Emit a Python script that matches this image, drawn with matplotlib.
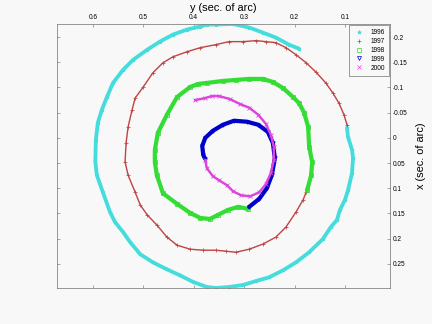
import matplotlib
matplotlib.use("Agg")
import matplotlib.pyplot as plt
from matplotlib.lines import Line2D
from matplotlib.ticker import FixedLocator, FuncFormatter

plt.rcParams['font.family'] = ['Liberation Sans', 'DejaVu Sans']
plt.rcParams['axes.unicode_minus'] = False

# polar motion, y (horizontal) and x (vertical), sec. of arc
y1996 = [0.191, 0.211, 0.237, 0.263, 0.290, 0.322, 0.356, 0.374, 0.387, 0.413, 0.441, 0.467, 0.492,
         0.520, 0.540, 0.560, 0.572, 0.582, 0.590, 0.594, 0.595, 0.592, 0.580, 0.566, 0.556, 0.540,
         0.526, 0.506, 0.481, 0.453, 0.427, 0.401, 0.374, 0.356, 0.330, 0.302, 0.276, 0.251, 0.223,
         0.197, 0.171, 0.144, 0.128, 0.116, 0.110, 0.100, 0.094, 0.086, 0.084, 0.086, 0.094, 0.096]
x1996 = [-0.177, -0.185, -0.199, -0.209, -0.219, -0.226, -0.225, -0.225, -0.221, -0.215, -0.205,
         -0.191, -0.175, -0.155, -0.135, -0.109, -0.081, -0.056, -0.030, 0.004, 0.048, 0.074, 0.108,
         0.147, 0.167, 0.187, 0.207, 0.231, 0.247, 0.261, 0.273, 0.286, 0.296, 0.298, 0.296, 0.292,
         0.284, 0.277, 0.263, 0.247, 0.227, 0.201, 0.177, 0.163, 0.143, 0.123, 0.104, 0.070, 0.040,
         0.024, -0.002, -0.020]

y1997 = [0.096, 0.102, 0.112, 0.124, 0.138, 0.158, 0.177, 0.197, 0.217, 0.237, 0.257, 0.276, 0.302,
         0.330, 0.356, 0.387, 0.413, 0.441, 0.461, 0.481, 0.500, 0.516, 0.522, 0.530, 0.534, 0.536,
         0.530, 0.516, 0.506, 0.492, 0.473, 0.453, 0.433, 0.407, 0.381, 0.356, 0.336, 0.316, 0.290,
         0.263, 0.237, 0.217, 0.197, 0.183, 0.177]
x1997 = [-0.026, -0.046, -0.069, -0.089, -0.109, -0.131, -0.149, -0.165, -0.179, -0.189, -0.191,
         -0.193, -0.191, -0.191, -0.185, -0.179, -0.171, -0.161, -0.149, -0.129, -0.101, -0.079,
         -0.056, -0.022, 0.010, 0.048, 0.074, 0.108, 0.133, 0.153, 0.173, 0.197, 0.213, 0.221, 0.223,
         0.223, 0.225, 0.227, 0.221, 0.211, 0.197, 0.177, 0.147, 0.123, 0.108]

y1998 = [0.175, 0.167, 0.165, 0.171, 0.173, 0.181, 0.191, 0.203, 0.223, 0.243, 0.263, 0.290, 0.316,
         0.342, 0.374, 0.391, 0.407, 0.433, 0.453, 0.471, 0.477, 0.477, 0.473, 0.461, 0.433, 0.407,
         0.387, 0.368, 0.352, 0.332, 0.312, 0.292]
x1998 = [0.104, 0.074, 0.048, 0.018, -0.022, -0.050, -0.069, -0.081, -0.099, -0.111, -0.117, -0.117,
         -0.115, -0.113, -0.109, -0.107, -0.101, -0.081, -0.046, -0.010, 0.024, 0.048, 0.074, 0.110,
         0.131, 0.149, 0.159, 0.161, 0.153, 0.143, 0.137, 0.141]

y1999 = [0.290, 0.270, 0.255, 0.245, 0.239, 0.243, 0.253, 0.272, 0.294, 0.320, 0.342, 0.362, 0.377,
         0.383, 0.381, 0.377]
x1999 = [0.137, 0.121, 0.100, 0.074, 0.040, 0.010, -0.012, -0.026, -0.032, -0.034, -0.026, -0.014,
         0.000, 0.016, 0.034, 0.042]

y2000 = [0.377, 0.374, 0.362, 0.350, 0.334, 0.322, 0.306, 0.288, 0.270, 0.257, 0.247, 0.241, 0.241,
         0.247, 0.257, 0.272, 0.290, 0.308, 0.328, 0.350, 0.364, 0.377, 0.397]
x2000 = [0.044, 0.060, 0.076, 0.084, 0.094, 0.106, 0.114, 0.116, 0.108, 0.092, 0.070, 0.044, 0.018,
         -0.006, -0.028, -0.046, -0.060, -0.067, -0.077, -0.083, -0.083, -0.079, -0.075]

years = ['1996', '1997', '1998', '1999', '2000']
xticks = [0.1, 0.2, 0.3, 0.4, 0.5, 0.6]
yticks = [-0.2, -0.15, -0.1, -0.05, 0, 0.05, 0.1, 0.15, 0.2, 0.25]

series = [(y1996, x1996), (y1997, x1997), (y1998, x1998), (y1999, x1999), (y2000, x2000)]
colors = ['#44dcdc', '#c04444', '#33dd33', '#0000cc', '#dd44dd']
markers = ['*', '+', 's', 'v', 'x']
lws = [3.8, 1.4, 4.2, 4.2, 2.4]
mss = [3.5, 4.5, 3.5, 3.5, 3.5]

bg = '#f8f8f8'
fig = plt.figure(figsize=(6, 4.5), dpi=72, facecolor=bg)
ax = fig.add_axes([57/432, 36/324, 333/432, 264/324])
ax.set_facecolor(bg)

for (yy, xx), c, m, lw, ms in zip(series, colors, markers, lws, mss):
    ax.plot(yy, xx, '-', color=c, lw=lw, solid_capstyle='round', solid_joinstyle='round')
    ax.plot(yy, xx, linestyle='none', marker=m, color=c, ms=ms, mew=0.8,
            mfc=('none' if m in ('s', 'v') else c))

ax.set_xlim(0.671, 0.0107)
ax.set_ylim(0.298, -0.226)

ax.xaxis.set_major_locator(FixedLocator(xticks))
ax.yaxis.set_major_locator(FixedLocator(yticks))
fmt = FuncFormatter(lambda v, p: '%g' % round(v, 3))
ax.xaxis.set_major_formatter(fmt)
ax.yaxis.set_major_formatter(fmt)
ax.tick_params(axis='both', direction='in', length=3, width=0.6, color='#707070',
               labelsize=6.5, pad=3, top=True, bottom=True, left=True, right=True,
               labeltop=True, labelbottom=False, labelleft=False, labelright=True)
for s in ax.spines.values():
    s.set_color('#808080')
    s.set_linewidth(0.8)

ax.xaxis.set_label_position('top')
ax.yaxis.set_label_position('right')
ax.set_xlabel('y (sec. of arc)', fontsize=11, labelpad=3)
ax.set_ylabel('x (sec. of arc)', fontsize=11, labelpad=8, rotation=90)

handles = [Line2D([], [], linestyle='none', marker=m, color=c, ms=4, mew=0.7,
                  mfc=('none' if m in ('s', 'v') else c)) for m, c in zip(markers, colors)]
leg = ax.legend(handles, years, loc='upper right', fontsize=6.5, frameon=True, fancybox=False,
                borderaxespad=0.15, handlelength=2.0, handletextpad=0.8, labelspacing=0.3,
                borderpad=0.6, facecolor=bg, edgecolor='#606060', framealpha=1)
leg.get_frame().set_linewidth(0.6)

fig.savefig('out.png', dpi=72, facecolor=bg)
